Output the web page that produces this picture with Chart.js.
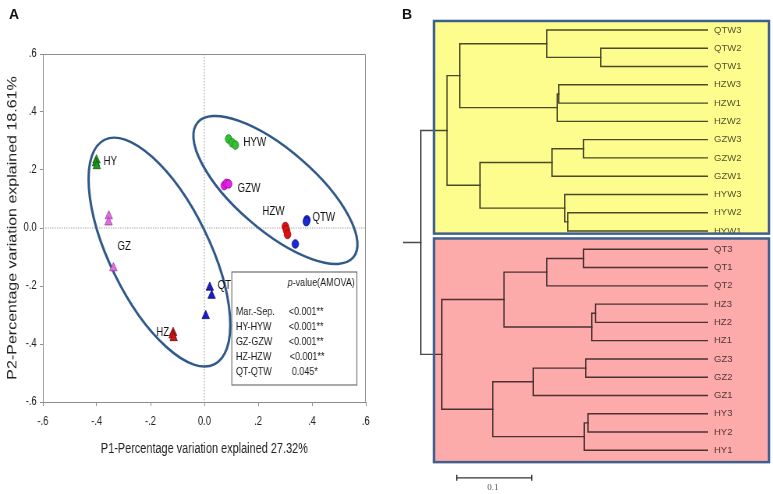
<!DOCTYPE html>
<html><head><meta charset="utf-8">
<script src="https://cdn.jsdelivr.net/npm/chart.js@4/dist/chart.umd.min.js"></script>
<style>
html,body{margin:0;padding:0;background:#fff;overflow:hidden;width:773px;height:494px;}
#wrapA{position:absolute;left:0;top:0;width:487px;height:494px;transform:scaleX(0.78);transform-origin:0 0;}
#cA{position:absolute;left:0;top:0;}
#cB{position:absolute;left:380px;top:0;}
.plab{position:absolute;font:bold 14px "Liberation Sans",Arial,sans-serif;line-height:14px;color:#111;}
</style></head><body>
<div id="wrapA"><canvas id="cA" width="487" height="494"></canvas></div>
<canvas id="cB" width="393" height="494"></canvas>
<div class="plab" style="left:9px;top:7px">A</div>
<div class="plab" style="left:402px;top:7px">B</div>
<script>
// ---------------- DATA ----------------
// Panel A: PCA scatter
const axisTickValues = [-0.6, -0.4, -0.2, 0, 0.2, 0.4, 0.6];
const xTickLabels = ['-.6', '-.4', '-.2', '0.0', '.2', '.4', '.6'];
const yTickLabels = ['-.6', '-.4', '-.2', '0.0', '.2', '.4', '.6'];
const xTitle = 'P1-Percentage variation explained 27.32%';
const yTitle = 'P2-Percentage variation explained 18.61%';

const groupNames = ['HY', 'GZ', 'HZ', 'QT', 'HYW', 'GZW', 'HZW', 'QTW'];
const xHY  = [-0.401, -0.403, -0.400], yHY  = [0.234, 0.224, 0.214];
const xGZ  = [-0.355, -0.356, -0.338], yGZ  = [0.041, 0.020, -0.138];
const xHZ  = [-0.116, -0.118, -0.114], yHZ  = [-0.361, -0.370, -0.379];
const xQT  = [0.020, 0.027, 0.005],    yQT  = [-0.205, -0.233, -0.303];
const xHYW = [0.090, 0.103, 0.115],    yHYW = [0.307, 0.294, 0.286];
const xGZW = [0.074, 0.082, 0.090],    yGZW = [0.146, 0.154, 0.152];
const xHZW = [0.301, 0.305, 0.309],    yHZW = [0.005, -0.007, -0.022];
const xQTW = [0.381, 0.379, 0.338],    yQTW = [0.028, 0.022, -0.055];
const pcaX = [xHY, xGZ, xHZ, xQT, xHYW, xGZW, xHZW, xQTW];
const pcaY = [yHY, yGZ, yHZ, yQT, yHYW, yGZW, yHZW, yQTW];

const amovaPairs = ['Mar.-Sep.', 'HY-HYW', 'GZ-GZW', 'HZ-HZW', 'QT-QTW'];
const amovaP = ['<0.001**', '<0.001**', '<0.001**', '<0.001**', '0.045*'];

// Panel B: dendrogram
const leafLabels = ['QTW3','QTW2','QTW1','HZW3','HZW1','HZW2','GZW3','GZW2','GZW1','HYW3','HYW2','HYW1',
                    'QT3','QT1','QT2','HZ3','HZ2','HZ1','GZ3','GZ2','GZ1','HY3','HY2','HY1'];
// merges: child A, child B (leaf index or 24+k for k-th merge), height
const mergeA      = [1, 0, 3, 26, 25, 6, 29, 10, 9, 30, 28, 12, 35, 15, 37, 36, 18, 40, 21, 42, 41, 39, 34];
const mergeB      = [2, 24, 4, 5, 27, 7, 8, 11, 31, 32, 33, 13, 14, 16, 17, 38, 19, 20, 22, 23, 43, 44, 45];
const mergeHeight = [0.143, 0.215, 0.199, 0.201, 0.331, 0.166, 0.208, 0.187, 0.191, 0.304, 0.348,
                     0.166, 0.215, 0.150, 0.155, 0.272, 0.163, 0.233, 0.160, 0.165, 0.287, 0.355, 0.383];
const rootBranch = 0.0237;
const scaleBarValue = 0.1;

// ---------------- STYLE ----------------
Chart.defaults.font.family = '"Liberation Sans", Arial, sans-serif';
Chart.defaults.color = '#222';
const FONT = '"Liberation Sans", Arial, sans-serif';
const SX = 0.78; // horizontal compression of panel A

const pcaStyle = {
  HY:  {shape:'triangle', r:5.5, fill:'#1f9a1f', edge:'#0c560c', dx:9,   dy:1,   align:'left'},
  GZ:  {shape:'triangle', r:5.5, fill:'#e06ee0', edge:'#9a3a9a', dx:11,  dy:30,  align:'left'},
  HZ:  {shape:'triangle', r:5.5, fill:'#d01818', edge:'#6a0c0c', dx:-5,  dy:0,   align:'right'},
  QT:  {shape:'triangle', r:5.5, fill:'#1c1cc8', edge:'#0a0a6a', dx:10,  dy:-2,  align:'left'},
  HYW: {shape:'circle',   r:4.3, fill:'#36bf36', edge:'#178517', dx:19,  dy:4,   align:'left'},
  GZW: {shape:'circle',   r:4.3, fill:'#e61ee6', edge:'#9a0f9a', dx:17,  dy:3,   align:'left'},
  HZW: {shape:'circle',   r:4.3, fill:'#de1212', edge:'#8a0d0d', dx:-29.5,dy:-15,align:'left'},
  QTW: {shape:'circle',   r:4.3, fill:'#1a2ad6', edge:'#0a1080', dx:7,   dy:-2,  align:'left'}
};
const ellipseSpecs = [
  {cx:-0.167, cy:-0.083, a:125, b:50, deg:64},
  {cx:0.264,  cy:0.131,  a:103, b:40, deg:41}
];

const pcaDatasets = groupNames.map((g, gi) => {
  const s = pcaStyle[g];
  return {
    label: g,
    data: pcaX[gi].map((x, i) => ({x: x, y: pcaY[gi][i]})),
    pointStyle: s.shape, pointRadius: s.r, pointBackgroundColor: s.fill,
    pointBorderColor: s.edge, pointBorderWidth: 0.8, showLine: false
  };
});

const pcaDecor = {
  id: 'pcaDecor',
  beforeDraw(c) { const x = c.ctx; x.save(); x.fillStyle = '#fff'; x.fillRect(0, 0, c.width, c.height); x.restore(); },
  beforeDatasetsDraw(c) {
    const ctx = c.ctx, a = c.chartArea, sx = c.scales.x, sy = c.scales.y;
    ctx.save();
    ctx.strokeStyle = '#8c8c8c'; ctx.lineWidth = 1;
    ctx.beginPath(); ctx.moveTo(a.left, a.top + 0.5); ctx.lineTo(a.right - 0.5, a.top + 0.5); ctx.lineTo(a.right - 0.5, a.bottom); ctx.stroke();
    const x0 = sx.getPixelForValue(0), y0 = sy.getPixelForValue(0);
    ctx.strokeStyle = '#a0a0a0'; ctx.setLineDash([1.5, 1.5]);
    ctx.beginPath(); ctx.moveTo(x0, a.top); ctx.lineTo(x0, a.bottom); ctx.moveTo(a.left, y0); ctx.lineTo(a.right, y0); ctx.stroke();
    ctx.setLineDash([]);
    ellipseSpecs.forEach(e => {
      ctx.save();
      ctx.translate(sx.getPixelForValue(e.cx), sy.getPixelForValue(e.cy));
      ctx.scale(1 / SX, 1);
      ctx.rotate(e.deg * Math.PI / 180);
      ctx.beginPath(); ctx.ellipse(0, 0, e.a, e.b, 0, 0, Math.PI * 2);
      ctx.strokeStyle = '#30598a'; ctx.lineWidth = 2.4; ctx.stroke();
      ctx.restore();
    });
    ctx.restore();
  },
  afterDatasetsDraw(c) {
    const ctx = c.ctx, a = c.chartArea;
    ctx.save();
    ctx.font = '12.5px ' + FONT; ctx.fillStyle = '#111'; ctx.textBaseline = 'middle';
    groupNames.forEach((g, gi) => {
      const s = pcaStyle[g];
      const p = c.getDatasetMeta(gi).data[0];
      ctx.textAlign = s.align;
      ctx.fillText(g, p.x + s.dx, p.y + s.dy);
    });
    // AMOVA box
    const bx0 = a.right - 171.8, bx1 = a.right - 11.5, by0 = a.bottom - 130, by1 = a.bottom - 17;
    ctx.fillStyle = '#fff'; ctx.fillRect(bx0, by0, bx1 - bx0, by1 - by0);
    ctx.strokeStyle = '#707070'; ctx.lineWidth = 1.2; ctx.strokeRect(bx0, by0, bx1 - bx0, by1 - by0);
    ctx.fillStyle = '#1a1a1a';
    ctx.font = '11.5px ' + FONT; ctx.textAlign = 'right';
    const rest = '-value(AMOVA)';
    ctx.fillText(rest, bx1 - 2.6, by0 + 11);
    const w = ctx.measureText(rest).width;
    ctx.font = 'italic 11.5px ' + FONT;
    ctx.fillText('p', bx1 - 2.6 - w, by0 + 11);
    ctx.font = '11.5px ' + FONT; ctx.textAlign = 'left';
    const indent = [0, 0, 0, 1.3, 4];
    amovaPairs.forEach((t, i) => {
      const yy = by0 + 40 + i * 14.9;
      ctx.fillText(t, bx0 + 5.2, yy);
      ctx.fillText(amovaP[i], bx0 + 73 + indent[i], yy);
    });
    ctx.restore();
  }
};

new Chart(document.getElementById('cA'), {
  type: 'scatter',
  data: {datasets: pcaDatasets},
  options: {
    responsive: false, animation: false, devicePixelRatio: 1,
    layout: {padding: {top: 54, right: 18, bottom: 0, left: 0}},
    plugins: {legend: {display: false}, tooltip: {enabled: false}},
    scales: {
      x: {
        type: 'linear', min: -0.6, max: 0.6,
        afterBuildTicks: s => { s.ticks = axisTickValues.map(v => ({value: v})); },
        afterFit: s => { s.height = 92; },
        ticks: {callback: (v, i) => xTickLabels[i], font: {size: 12}, color: '#222', padding: 8, maxRotation: 0, autoSkip: false},
        grid: {drawOnChartArea: false, drawTicks: true, tickLength: 4, color: '#8c8c8c'},
        border: {display: true, color: '#8c8c8c'},
        title: {display: true, text: xTitle, font: {size: 14}, color: '#222', padding: {top: 0, bottom: 36.6}}
      },
      y: {
        type: 'linear', min: -0.6, max: 0.6,
        afterBuildTicks: s => { s.ticks = axisTickValues.map(v => ({value: v})); },
        afterFit: s => { s.width = 55; },
        ticks: {callback: (v, i) => yTickLabels[i], font: {size: 12}, color: '#222', padding: 4, autoSkip: false},
        grid: {drawOnChartArea: false, drawTicks: true, tickLength: 4, color: '#8c8c8c'},
        border: {display: true, color: '#8c8c8c'},
        title: {display: true, text: yTitle, font: {size: 16}, color: '#222', padding: {top: 7, bottom: 0}}
      }
    }
  },
  plugins: [pcaDecor]
});

// ---------------- Panel B ----------------
const nodeY = leafLabels.map((_, i) => i);
const nodeH = leafLabels.map(() => 0);
const segments = [];
mergeA.forEach((ca, k) => {
  const cb = mergeB[k], h = mergeHeight[k];
  segments.push([{x: nodeH[ca], y: nodeY[ca]}, {x: h, y: nodeY[ca]}, {x: h, y: nodeY[cb]}, {x: nodeH[cb], y: nodeY[cb]}]);
  nodeY.push((nodeY[ca] + nodeY[cb]) / 2);
  nodeH.push(h);
});
const rootIdx = nodeY.length - 1;
const treeMax = nodeH[rootIdx] + rootBranch;
segments.push([{x: nodeH[rootIdx], y: nodeY[rootIdx]}, {x: treeMax, y: nodeY[rootIdx]}]);

const dendroDecor = {
  id: 'dendroDecor',
  beforeDraw(c) { const x = c.ctx; x.save(); x.fillStyle = '#fff'; x.fillRect(0, 0, c.width, c.height); x.restore(); },
  afterDraw(c) {
    const ctx = c.ctx, a = c.chartArea, sx = c.scales.x, sy = c.scales.y;
    const L = a.left + 31, R = c.width - 4;
    const boxes = [
      {t: sy.getPixelForValue(0) - 9,   b: sy.getPixelForValue(11) + 2.6, fill: '#fdfd8e'},
      {t: sy.getPixelForValue(12) - 10.8, b: sy.getPixelForValue(23) + 11.8, fill: '#fdaaaa'}
    ];
    ctx.save();
    ctx.globalCompositeOperation = 'multiply';
    boxes.forEach(bx => { ctx.fillStyle = bx.fill; ctx.fillRect(L, bx.t, R - L, bx.b - bx.t); });
    ctx.globalCompositeOperation = 'source-over';
    ctx.strokeStyle = '#3f5f8f'; ctx.lineWidth = 2.5;
    boxes.forEach(bx => { ctx.strokeRect(L, bx.t, R - L, bx.b - bx.t); });
    // scale bar
    const sbStart = 0.335;
    const x1 = sx.getPixelForValue(sbStart), x2 = sx.getPixelForValue(sbStart - scaleBarValue);
    const yb = sy.getPixelForValue(23) + 27.5;
    ctx.strokeStyle = '#333'; ctx.lineWidth = 1.3;
    ctx.beginPath();
    ctx.moveTo(x1, yb); ctx.lineTo(x2, yb);
    ctx.moveTo(x1, yb - 3); ctx.lineTo(x1, yb + 3);
    ctx.moveTo(x2, yb - 3); ctx.lineTo(x2, yb + 3);
    ctx.stroke();
    ctx.fillStyle = '#555'; ctx.font = '9px "Liberation Serif", serif';
    ctx.textAlign = 'center'; ctx.textBaseline = 'middle';
    ctx.fillText(String(scaleBarValue), (x1 + x2) / 2 - 1.5, yb + 10);
    ctx.restore();
  }
};

new Chart(document.getElementById('cB'), {
  type: 'scatter',
  data: {datasets: segments.map(pts => ({data: pts, showLine: true, borderColor: '#4a4a4a', borderWidth: 1.4,
    pointRadius: 0, fill: false, tension: 0, borderJoinStyle: 'miter', borderCapStyle: 'square'}))},
  options: {
    responsive: false, animation: false, devicePixelRatio: 1,
    layout: {padding: {top: 8.6, bottom: 25.4, left: 23, right: 0}},
    plugins: {legend: {display: false}, tooltip: {enabled: false}},
    scales: {
      x: {type: 'linear', reverse: true, min: 0, max: treeMax, display: false},
      y: {
        type: 'linear', position: 'right', reverse: true, min: -1, max: 24,
        afterBuildTicks: s => { s.ticks = leafLabels.map((_, i) => ({value: i})); },
        afterFit: s => { s.width = 65; },
        ticks: {callback: (v, i) => leafLabels[i], font: {size: 9.5}, color: '#555', padding: 6, autoSkip: false},
        grid: {display: false, drawTicks: false},
        border: {display: false}
      }
    }
  },
  plugins: [dendroDecor]
});
</script>
</body></html>
